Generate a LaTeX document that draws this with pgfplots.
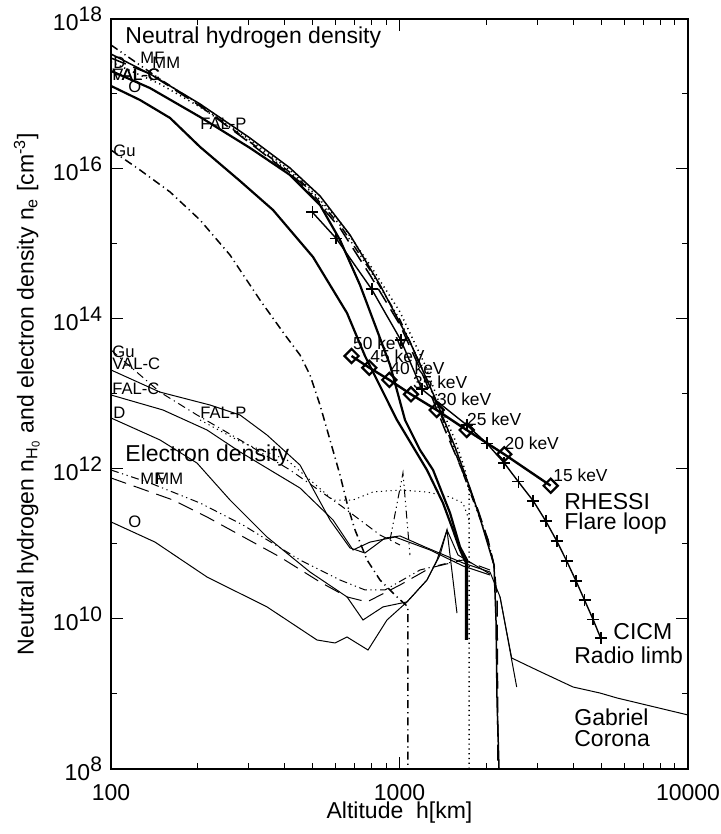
\documentclass[border=0pt]{standalone}
\usepackage{fontspec}
\setmainfont{Liberation Sans}
\usepackage{pgfplots}
\pgfplotsset{compat=1.18}
\newcommand{\pw}[1]{10\raisebox{0.75ex}{\fontsize{10.5}{11}\selectfont #1}}
\newcommand{\sm}{\fontsize{8.3}{9}\selectfont}
\newcommand{\kv}{\fontsize{8.7}{9}\selectfont}
\newcommand{\bg}{\fontsize{11.5}{12}\selectfont}
\begin{document}
\begin{tikzpicture}
\path[use as bounding box] (-55.5pt,-32.5pt) rectangle (305pt,384.5pt);
\begin{axis}[
  at={(0,0)}, anchor=south west,
  scale only axis, width=288.5pt, height=375pt,
  xmode=log, ymode=log,
  xmin=100, xmax=10000, ymin=1e8, ymax=1e18,
  xtick={100,1000,10000}, xticklabels={100,1000,10000},
  minor xtick={200,300,400,500,600,700,800,900,2000,3000,4000,5000,6000,7000,8000,9000},
  ytick={1e8,1e10,1e12,1e14,1e16,1e18},
  yticklabels={\pw{8},\pw{10},\pw{12},\pw{14},\pw{16},\pw{18}},
  minor ytick={1e9,1e11,1e13,1e15,1e17},
  tick align=inside, major tick length=6pt, minor tick length=3pt,
  every tick/.style={black, line width=0.5pt},
  axis line style={line width=0.6pt},
  ticklabel style={font=\bg},
  xticklabel style={yshift=-4pt},
  yticklabel style={xshift=-1pt},
  xlabel={Altitude\ \ h[km]},
  ylabel={Neutral hydrogen n\textsubscript{H\textsubscript{0}} and electron density n\textsubscript{e} [cm\textsuperscript{-3}]},
  label style={font=\bg},
  xlabel style={at={(axis description cs:0.5,-0.058)}, anchor=center},
  ylabel style={at={(axis description cs:-0.146,0.5)}, anchor=center},
  clip=true,
  thn/.style={black, line width=0.5pt},
  med/.style={black, line width=0.75pt},
  thk/.style={black, line width=1.1pt},
  dotl/.style={dash pattern=on 0.6pt off 1.8pt},
  dashdotl/.style={dash pattern=on 4pt off 2pt on 0.6pt off 2pt},
  ddd/.style={dash pattern=on 4pt off 1.8pt on 0.6pt off 1.8pt on 0.6pt off 1.8pt},
  longd/.style={dash pattern=on 8pt off 4pt},
]
% ---------------- neutral hydrogen ----------------
% O (solid, leftmost steep)
\addplot[thk] coordinates {(100,1.28e17) (126,8.32e16) (160.2,4.79e16) (203.5,1.97e16) (280,6.92e15) (364.4,2.84e15) (501.4,6.71e14) (657.8,1.20e14) (759.4,3.21e13) (980,4.50e12) (1245,9.70e11) (1415,3.52e11) (1532,1.54e11) (1621,8.32e10) (1701,5.58e10) (1701,5.25e9)};
% VAL-C (thick)
\addplot[thk] coordinates {(100,2.03e17) (136.5,1.20e17) (203.5,4.94e16) (303.2,1.91e16) (417.4,8.32e15) (530.3,3.31e15) (622,1.13e15) (729.6,2.84e14) (822.6,8.32e13) (927.1,2.44e13) (1045,4.50e12) (1178,1.79e12) (1307,9.70e11) (1497,2.59e11) (1621,9.12e10) (1714,6.12e10) (1714,5.25e9)};
% D (solid)
\addplot[med] coordinates {(100,3.41e17) (136.5,1.85e17) (203.5,7.36e16) (303.2,2.59e16) (417.4,1.03e16) (530.3,4.37e15) (673.7,1.32e15) (855.9,2.84e14) (1087,4.94e13) (1328,8.85e12) (1557,1.97e12) (1755,5.58e11) (1901,2.22e11) (2027,9.70e10) (2126,5.25e10) (2160,9.70e9) (2178,8.32e8) (2213,1e8)};
% MF (dash dot dot)
\addplot[med, ddd] coordinates {(100,4.50e17) (147.8,1.58e17) (203.5,7.13e16) (303.2,2.29e16) (452,7.13e15) (622,1.79e15) (790.3,4.50e14) (1004,9.70e13) (1226,1.79e13) (1438,3.86e12) (1621,1.13e12) (1827,3.31e11) (2027,1.13e11) (2143,4.50e10)};
% MM (long dash)
\addplot[med, longd] coordinates {(100,3.02e17) (136.5,1.85e17) (203.5,6.92e16) (303.2,2.22e16) (452,6.71e15) (622,1.63e15) (790.3,3.86e14) (1004,8.32e13) (1226,1.54e13) (1438,3.31e12) (1647,9.70e11) (1871,2.84e11) (2027,1.13e11) (2126,5.25e10) (2178,1.79e10) (2195,1e8)};
% FAL-P (dotted)
\addplot[med, dotl] coordinates {(100,2.67e17) (147.8,1.36e17) (203.5,6.71e16) (303.2,2.44e16) (452,7.59e15) (622,1.97e15) (790.3,5.25e14) (1004,1.24e14) (1226,2.44e13) (1382,7.13e12) (1557,2.44e12) (1687,9.70e11) (1742,5.25e11) (1742,1e8)};
% Gu (dash dot)
\addplot[med, dashdotl] coordinates {(100,1.79e16) (126,9.70e15) (160.2,4.94e15) (203.5,2.09e15) (258.5,7.13e14) (328.5,1.79e14) (401,6.12e13) (452,3.31e13) (489.6,1.79e13) (530.3,7.13e12) (574.3,2.44e12) (622,8.32e11) (663,3.11e11) (701.2,1.54e11) (772,6.12e10) (855.9,3.31e10) (980,1.97e10) (1070,1.45e10) (1070,1e8)};
% ---------------- electron density ----------------
% VAL-C
\addplot[thn] coordinates {(100,2.09e13) (147.8,1.06e13) (220.4,7.13e12) (280,5.25e12) (347.3,2.84e12) (452,1.13e12) (574.3,2.09e11) (673.7,8.85e10) (759.4,7.59e10) (890.6,1.20e11) (1004,1.28e11) (1226,9.12e10) (1660,5.58e10) (2059,4.23e10)};
% FAL-C
\addplot[thn] coordinates {(100,9.70e12) (151.4,6.12e12) (215.2,3.31e12) (280,1.69e12) (355.8,9.70e11) (452,5.58e11) (588.3,2.09e11) (690,8.32e10) (790.3,1.06e11) (964.7,1.24e11) (1276,8.32e10) (1660,5.09e10) (2059,3.86e10)};
% D
\addplot[thn] coordinates {(100,4.79e12) (147.8,2.44e12) (198.7,1.20e12) (258.5,3.86e11) (347.3,1.24e11) (489.6,4.23e10) (657.8,1.97e10) (747.3,9.70e9) (876.8,1.45e10) (1062,1.69e10) (1245,3.31e10) (1349,6.12e10) (1461,1.54e11) (1595,7.13e10) (2059,3.98e10)};
% O
\addplot[thn] coordinates {(100,1.97e11) (142.1,1.06e11) (215.2,3.63e10) (347.3,1.45e10) (517.6,5.25e9) (597.6,4.79e9) (657.8,5.75e9) (778,3.86e9) (904.9,9.70e9) (1062,1.69e10) (1245,3.31e10) (1382,7.13e10) (1461,1.54e11) (1582,1.20e10)};
% MF
\addplot[thn, ddd] coordinates {(100,9.70e11) (136.5,6.51e11) (203.5,3.52e11) (286.8,1.79e11) (452,6.12e10) (622,3.31e10) (759.4,2.44e10) (890.6,2.44e10) (1178,4.50e10) (1621,6.12e10)};
% MM
\addplot[thn, longd] coordinates {(100,7.59e11) (164,3.86e11) (215.2,2.29e11) (385.3,6.71e10) (530.3,3.11e10) (657.8,1.97e10) (772,1.69e10) (1004,2.84e10) (1276,4.79e10) (1660,6.12e10) (2059,4.50e10)};
% FAL-P
\addplot[thn, dotl] coordinates {(203.5,4.50e12) (286.8,2.22e12) (407.4,1.32e12) (588.3,3.86e11) (690,3.86e11) (809.2,4.94e11) (1004,5.25e11) (1245,4.94e11) (1497,4.23e11) (1660,3.52e11) (1742,2.09e11)};
% Gu
\addplot[thn, dashdotl] coordinates {(100,3.86e13) (147.8,1.06e13) (198.7,5.25e12) (280,2.44e12) (417.4,9.70e11) (622,3.31e11) (855.9,1.32e11) (1004,9.70e10)};
\addplot[thn, ddd] coordinates {(927.1,1.13e11) (1028,8.85e11) (1087,7.13e10)};
% ---------------- Gabriel corona ----------------
\addplot[thn] coordinates {(2059,4.23e10) (2231,1.97e10) (2448,3.02e9) (2989,2.09e9) (3994,1.24e9) (4955,1.03e9) (5674,8.85e8) (10000,5.25e8)};
\addplot[thn] coordinates {(2231,1.97e10) (2548,1.24e9)};
% ---------------- CICM radio limb ----------------
\addplot[black, line width=0.7pt, mark=+, mark size=3pt, mark options={line width=0.8pt}] coordinates {(499,2.65e15) (603,1.19e15) (801,2.49e14) (1010,5.25e13) (1194,1.16e13) (1710,3.86e12) (2006,2.20e12) (2303,1.21e12) (2581,6.77e11) (2909,3.75e11) (3212,2.03e11) (3507,1.10e11) (3798,5.93e10) (4091,3.21e10) (4378,1.79e10) (4686,9.9e9) (4984,5.53e9)};
% ---------------- RHESSI ----------------
\addplot[black, line width=1.2pt, mark=square, mark size=2.5pt, mark options={rotate=45, line width=1.1pt, fill=white}] coordinates {(682,3.21e13) (786,2.24e13) (922,1.54e13) (1096,9.9e12) (1345,6.12e12) (1709,3.31e12) (2308,1.57e12) (3342,5.98e11)};
% ---------------- labels ----------------
\begin{scope}[every node/.style={inner sep=0pt, anchor=west}]
\node[font=\bg] at (rel axis cs:0.0243,0.9747) {Neutral hydrogen density};
\node[font=\bg] at (rel axis cs:0.0243,0.4173) {Electron density};
\node[font=\sm] at (rel axis cs:0.0503,0.948) {MF};
\node[font=\sm] at (rel axis cs:0.0711,0.9413) {MM};
\node[font=\sm] at (rel axis cs:0.0035,0.9413) {D};
\node[font=\sm] at (rel axis cs:0.0017,0.9253) {VAL-C};
\node[font=\sm] at (rel axis cs:0.0017,0.9253) {FAL-C};
\node[font=\sm] at (rel axis cs:0.0295,0.9093) {O};
\node[font=\sm] at (rel axis cs:0.1542,0.86) {FAL-P};
\node[font=\sm] at (rel axis cs:0.0035,0.824) {Gu};
\node[font=\sm] at (rel axis cs:0.0017,0.556) {Gu};
\node[font=\sm] at (rel axis cs:0.0017,0.54) {VAL-C};
\node[font=\sm] at (rel axis cs:0.0017,0.5067) {FAL-C};
\node[font=\sm] at (rel axis cs:0.0035,0.4747) {D};
\node[font=\sm] at (rel axis cs:0.1542,0.4747) {FAL-P};
\node[font=\sm] at (rel axis cs:0.0503,0.3867) {MF};
\node[font=\sm] at (rel axis cs:0.0763,0.3867) {MM};
\node[font=\sm] at (rel axis cs:0.0295,0.3293) {O};
\node[font=\kv] at (rel axis cs:0.4189,0.568) {50 keV};
\node[font=\kv] at (rel axis cs:0.4489,0.5507) {45 keV};
\node[font=\kv] at (rel axis cs:0.4835,0.5347) {40 keV};
\node[font=\kv] at (rel axis cs:0.5229,0.5151) {35 keV};
\node[font=\kv] at (rel axis cs:0.5645,0.4933) {30 keV};
\node[font=\kv] at (rel axis cs:0.6165,0.4667) {25 keV};
\node[font=\kv] at (rel axis cs:0.6816,0.4347) {20 keV};
\node[font=\kv] at (rel axis cs:0.766,0.392) {15 keV};
\node[font=\bg] at (rel axis cs:0.785,0.356) {RHESSI};
\node[font=\bg] at (rel axis cs:0.785,0.3267) {Flare loop};
\node[font=\bg] at (rel axis cs:0.87,0.1827) {CICM};
\node[font=\bg] at (rel axis cs:0.8024,0.152) {Radio limb};
\node[font=\bg] at (rel axis cs:0.8024,0.0693) {Gabriel};
\node[font=\bg] at (rel axis cs:0.8024,0.04) {Corona};
\end{scope}
\end{axis}
\end{tikzpicture}
\end{document}
